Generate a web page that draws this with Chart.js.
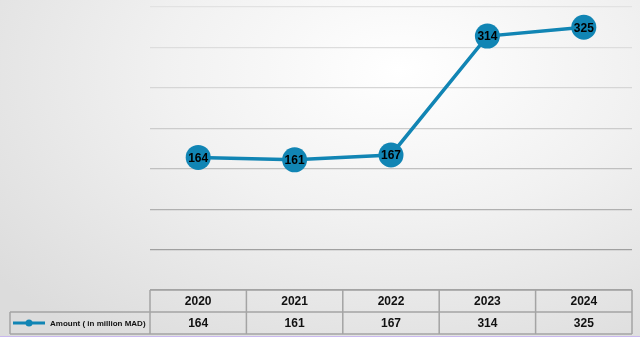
<!DOCTYPE html>
<html>
<head>
<meta charset="utf-8">
<script src="https://cdn.jsdelivr.net/npm/chart.js@4.4.1/dist/chart.umd.min.js"></script>
<style>
  html, body { margin: 0; padding: 0; }
  body {
    width: 640px; height: 337px; overflow: hidden;
    background: radial-gradient(ellipse 520px 330px at 400px 70px, #ffffff 0%, #f1f1f1 45%, #dcdcdc 100%);
  }
  #wrap { position: relative; width: 640px; height: 336px; border-bottom: 1px solid #c9b8ee; }
</style>
</head>
<body>
<div id="wrap"><canvas id="amountChart" width="640" height="336"></canvas></div>
<script>
// Data
const years = ['2020', '2021', '2022', '2023', '2024'];
const amounts = [164, 161, 167, 314, 325];
const seriesLabel = 'Amount ( in million MAD)';

const lineColor = '#1185b4';
const gridColors = ['#a0a0a0', '#a0a0a0', '#b0b0b0', '#c0c0c0', '#cccccc', '#d6d6d6', '#dddddd', '#e2e2e2'];

// Labels inside the round markers
const pointLabels = {
    id: 'pointLabels',
    afterDatasetsDraw(chart) {
        const ctx = chart.ctx;
        const meta = chart.getDatasetMeta(0);
        ctx.save();
        ctx.font = 'bold 12px "Liberation Sans", Arial, sans-serif';
        ctx.fillStyle = '#000';
        ctx.textAlign = 'center';
        ctx.textBaseline = 'middle';
        meta.data.forEach((pt, i) => {
            ctx.fillText(amounts[i], pt.x, pt.y + 1);
        });
        ctx.restore();
    }
};

// Data table under the plot
const dataTable = {
    id: 'dataTable',
    afterDraw(chart) {
        const ctx = chart.ctx;
        const x = chart.scales.x;
        const top = chart.chartArea.bottom;
        const rowH = 22;
        const left = x.left, right = x.right;
        const legendLeft = 10;
        const step = (right - left) / years.length;

        ctx.save();
        ctx.strokeStyle = '#a4a4a4';
        ctx.lineWidth = 1.5;
        ctx.beginPath();
        ctx.moveTo(left, top); ctx.lineTo(right, top);
        ctx.moveTo(legendLeft, top + rowH); ctx.lineTo(right, top + rowH);
        ctx.moveTo(legendLeft, top + rowH * 2); ctx.lineTo(right, top + rowH * 2);
        ctx.moveTo(legendLeft, top + rowH); ctx.lineTo(legendLeft, top + rowH * 2);
        for (let i = 0; i <= years.length; i++) {
            const cx = left + step * i;
            ctx.moveTo(cx, top); ctx.lineTo(cx, top + rowH * 2);
        }
        ctx.stroke();

        ctx.fillStyle = '#111';
        ctx.textAlign = 'center';
        ctx.textBaseline = 'middle';
        ctx.font = 'bold 12px "Liberation Sans", Arial, sans-serif';
        years.forEach((y, i) => {
            const cx = x.getPixelForTick(i);
            ctx.fillText(y, cx, top + rowH / 2 + 1);
            ctx.fillText(amounts[i], cx, top + rowH * 1.5 + 1);
        });

        // legend key
        const ly = top + rowH * 1.5;
        ctx.strokeStyle = lineColor;
        ctx.lineWidth = 3;
        ctx.beginPath();
        ctx.moveTo(13, ly); ctx.lineTo(45, ly);
        ctx.stroke();
        ctx.fillStyle = lineColor;
        ctx.beginPath();
        ctx.arc(29, ly, 3.5, 0, Math.PI * 2);
        ctx.fill();

        ctx.fillStyle = '#111';
        ctx.textAlign = 'left';
        ctx.font = 'bold 8px "Liberation Sans", Arial, sans-serif';
        ctx.fillText(seriesLabel, 50, ly + 1);
        ctx.restore();
    }
};

const ctx = document.getElementById('amountChart').getContext('2d');

const amountChart = new Chart(ctx, {
    type: 'line',
    data: {
        labels: years,
        datasets: [{
            label: seriesLabel,
            data: amounts,
            borderColor: lineColor,
            backgroundColor: lineColor,
            borderWidth: 3.5,
            pointRadius: 12.5,
            pointHoverRadius: 12.5,
            pointBackgroundColor: lineColor,
            pointBorderWidth: 0,
            tension: 0
        }]
    },
    options: {
        responsive: false,
        animation: false,
        layout: {
            autoPadding: false,
            padding: { left: 150, right: 8, top: 7, bottom: 46 }
        },
        plugins: {
            legend: { display: false },
            tooltip: { enabled: false }
        },
        scales: {
            x: {
                offset: true,
                grid: { display: false, drawTicks: false },
                border: { display: false },
                ticks: { display: false }
            },
            y: {
                min: 0,
                max: 350,
                ticks: { display: false, stepSize: 50 },
                grid: {
                    drawTicks: false,
                    lineWidth: 1.2,
                    color: c => gridColors[c.index] || '#e0e0e0'
                },
                border: { display: false }
            }
        }
    },
    plugins: [pointLabels, dataTable]
});
</script>
</body>
</html>
